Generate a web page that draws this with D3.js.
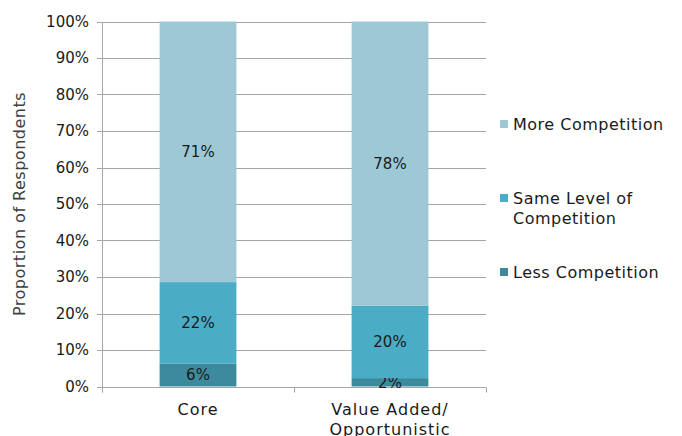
<!DOCTYPE html>
<html>
<head>
<meta charset="utf-8">
<script src="https://cdn.jsdelivr.net/npm/d3@7"></script>
<style>
  html, body { margin: 0; padding: 0; background: #fff; }
  svg text { font-family: "Century Gothic", "DejaVu Sans", sans-serif; fill: #1a1a1a; }
</style>
</head>
<body>
<svg id="chart" width="682" height="436"></svg>
<script>
// Survey categories and stacked shares (percent of respondents)
const categories = [["Core"], ["Value Added/", "Opportunistic"]];
const seriesNames = ["Less Competition", "Same Level of Competition", "More Competition"];
const lessCompetition = [6.3, 2.3];
const sameCompetition = [22.3, 19.8];
const moreCompetition = [71.4, 77.9];
const yTicks = [0, 10, 20, 30, 40, 50, 60, 70, 80, 90, 100];

const colors = ["#3e8a9d", "#4bacc6", "#9dc9d6"];
const seriesValues = [lessCompetition, sameCompetition, moreCompetition];

const svg = d3.select("#chart");
const margin = { left: 102, right: 196, top: 21.5, bottom: 49.5 };
const W = 682, H = 436;

const x = d3.scaleBand()
  .domain(d3.range(categories.length))
  .range([margin.left, W - margin.right])
  .paddingInner(0.6)
  .paddingOuter(0.3);
const y = d3.scaleLinear().domain([0, 100]).range([H - margin.bottom, margin.top]);

// Horizontal gridlines
svg.append("g")
  .selectAll("line")
  .data(yTicks)
  .join("line")
  .attr("x1", margin.left - 5)
  .attr("x2", W - margin.right)
  .attr("y1", d => Math.round(y(d)) + 0.5)
  .attr("y2", d => Math.round(y(d)) + 0.5)
  .attr("stroke", "#a6a6a6")
  .attr("stroke-width", 1);

// Y tick labels
svg.append("g")
  .selectAll("text")
  .data(yTicks)
  .join("text")
  .attr("x", margin.left - 13)
  .attr("y", d => y(d))
  .attr("dy", "0.35em")
  .attr("text-anchor", "end")
  .style("font-size", "15px")
  .text(d => d + "%");

// Stacked bars
const stackData = categories.map((c, i) => {
  const o = { i };
  seriesNames.forEach((s, k) => { o[s] = seriesValues[k][i]; });
  return o;
});
const stacked = d3.stack().keys(seriesNames)(stackData);

const layers = svg.append("g")
  .selectAll("g")
  .data(stacked)
  .join("g")
  .attr("fill", (d, k) => colors[k]);

layers.selectAll("rect")
  .data(d => d)
  .join("rect")
  .attr("x", d => x(d.data.i))
  .attr("width", x.bandwidth())
  .attr("y", d => y(d[1]))
  .attr("height", d => y(d[0]) - y(d[1]));

// Value labels centred in each segment
layers.selectAll("text")
  .data(d => d.map(p => ({ p, key: d.key })))
  .join("text")
  .attr("x", d => x(d.p.data.i) + x.bandwidth() / 2)
  .attr("y", d => (y(d.p[0]) + y(d.p[1])) / 2)
  .attr("dy", "0.35em")
  .attr("text-anchor", "middle")
  .style("font-size", "15px")
  .text(d => Math.round(d.p.data[d.key]) + "%");

// Axis lines
const axisG = svg.append("g").attr("stroke", "#a6a6a6").attr("stroke-width", 1);
const x0 = Math.round(margin.left) + 0.5;
const yBase = Math.round(y(0)) + 0.5;
axisG.append("line")
  .attr("x1", x0).attr("x2", x0)
  .attr("y1", Math.round(y(100))).attr("y2", yBase + 5);
const sepX = [margin.left, margin.left + (W - margin.right - margin.left) / 2, W - margin.right];
axisG.selectAll("line.sep")
  .data(sepX)
  .join("line")
  .attr("class", "sep")
  .attr("x1", d => Math.round(d) + 0.5)
  .attr("x2", d => Math.round(d) + 0.5)
  .attr("y1", yBase)
  .attr("y2", yBase + 5);

// Category labels
const catG = svg.append("g")
  .selectAll("text")
  .data(categories)
  .join("text")
  .attr("x", (d, i) => x(i) + x.bandwidth() / 2)
  .attr("y", 415)
  .attr("text-anchor", "middle")
  .style("font-size", "16px")
  .style("letter-spacing", "1px");
catG.selectAll("tspan")
  .data(d => d)
  .join("tspan")
  .attr("x", function () { return d3.select(this.parentNode).attr("x"); })
  .attr("dy", (d, j) => j === 0 ? 0 : 20)
  .text(d => d);

// Y axis title
svg.append("text")
  .attr("transform", "translate(25," + ((y(0) + y(100)) / 2) + ") rotate(-90)")
  .attr("text-anchor", "middle")
  .style("font-size", "16px")
  .style("letter-spacing", "0.5px")
  .style("fill", "#404040")
  .text("Proportion of Respondents");

// Legend (top to bottom: More, Same, Less)
const legendItems = [
  { lines: ["More Competition"], color: colors[2], y: 124 },
  { lines: ["Same Level of", "Competition"], color: colors[1], y: 198 },
  { lines: ["Less Competition"], color: colors[0], y: 272 }
];
const lg = svg.append("g")
  .selectAll("g")
  .data(legendItems)
  .join("g");
lg.append("rect")
  .attr("x", 500)
  .attr("y", d => d.y - 4)
  .attr("width", 8)
  .attr("height", 8)
  .attr("fill", d => d.color);
lg.append("text")
  .attr("x", 513)
  .attr("y", d => d.y)
  .style("font-size", "16px")
  .style("letter-spacing", "0.5px")
  .selectAll("tspan")
  .data(d => d.lines)
  .join("tspan")
  .attr("x", 513)
  .attr("dy", (d, j) => j === 0 ? "0.35em" : 20)
  .text(d => d);
</script>
</body>
</html>
